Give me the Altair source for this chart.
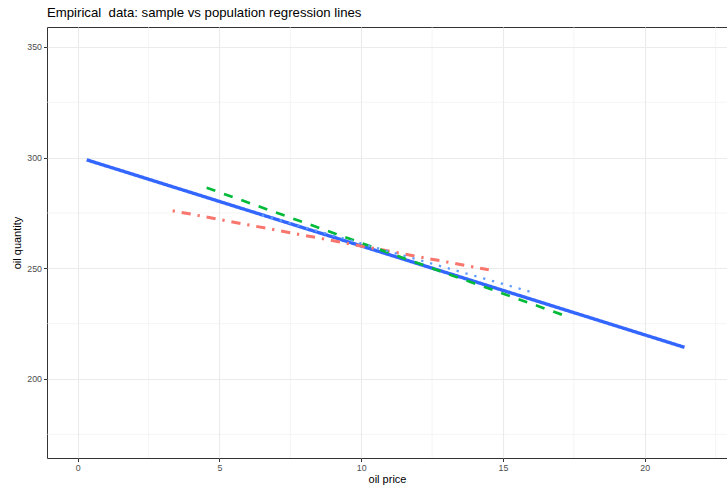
import altair as alt
import pandas as pd

# Regression lines (endpoints)
series = ["population", "sample 1", "sample 2", "sample 3"]
x_start = [0.32, 3.35, 4.55, 6.5]
x_end = [21.4, 14.5, 17.2, 16.1]
y_start = [299.0, 276.0, 286.4, 274.0]
y_end = [214.3, 249.3, 228.5, 238.9]

colors = ["#3366FF", "#F8766D", "#00BA38", "#619CFF"]
dashes = [[1, 0], [2.3, 6.9, 9.2, 6.9], [9.2, 9.2], [2.3, 6.9]]
widths = [3.4, 2.3, 2.3, 2.3]

x_major = [0, 5, 10, 15, 20]
y_major = [200, 250, 300, 350]
x_minor = [2.5, 7.5, 12.5, 17.5, 22.5]
y_minor = [175, 225, 275, 325]

x_domain = [-1.08, 22.9]
y_domain = [164.3, 359.0]

rows = []
for s, x0, x1, y0, y1 in zip(series, x_start, x_end, y_start, y_end):
    rows.append({"series": s, "x": x0, "y": y0})
    rows.append({"series": s, "x": x1, "y": y1})
df = pd.DataFrame(rows)

FONT = "Liberation Sans"
xs = alt.Scale(domain=x_domain, nice=False, zero=False)
ys = alt.Scale(domain=y_domain, nice=False, zero=False)

vminor = alt.Chart(pd.DataFrame({"v": x_minor})).mark_rule(
    color="#EBEBEB", strokeWidth=0.55
).encode(x=alt.X("v:Q", scale=xs))
hminor = alt.Chart(pd.DataFrame({"v": y_minor})).mark_rule(
    color="#EBEBEB", strokeWidth=0.55
).encode(y=alt.Y("v:Q", scale=ys))

lines = alt.Chart(df).mark_line(strokeCap="butt").encode(
    x=alt.X("x:Q", scale=xs, title="oil price",
            axis=alt.Axis(values=x_major, format="d")),
    y=alt.Y("y:Q", scale=ys, title="oil quantity",
            axis=alt.Axis(values=y_major, format="d")),
    color=alt.Color("series:N", scale=alt.Scale(domain=series, range=colors), legend=None),
    strokeDash=alt.StrokeDash("series:N", scale=alt.Scale(domain=series, range=dashes), legend=None),
    strokeWidth=alt.StrokeWidth("series:N", scale=alt.Scale(domain=series, range=widths), legend=None),
    detail="series:N",
)

chart = alt.layer(vminor, hminor, lines).properties(
    width=680,
    height=431,
    autosize="none",
    padding={"left": 47, "top": 27, "right": 0, "bottom": 27},
    title=alt.TitleParams(
        "Empirical\u00a0 data: sample vs population regression lines",
        anchor="start", frame="group", font=FONT, fontSize=13.2,
        fontWeight="normal", color="#000000", offset=7,
    ),
).configure_view(
    stroke="#333333", strokeWidth=1
).configure_axis(
    domain=False,
    grid=True,
    gridColor="#EBEBEB",
    gridWidth=1.1,
    tickColor="#333333",
    tickSize=3.5,
    tickWidth=1,
    labelFont=FONT,
    labelFontSize=8.8,
    labelColor="#4D4D4D",
    titleFont=FONT,
    titleFontSize=11,
    titleFontWeight="normal",
    titleColor="#000000",
).configure_axisX(
    labelPadding=1.5, titlePadding=2
).configure_axisY(
    labelPadding=2, titlePadding=4
)

chart.save("out.html", embed_options={"renderer": "svg", "actions": False})
